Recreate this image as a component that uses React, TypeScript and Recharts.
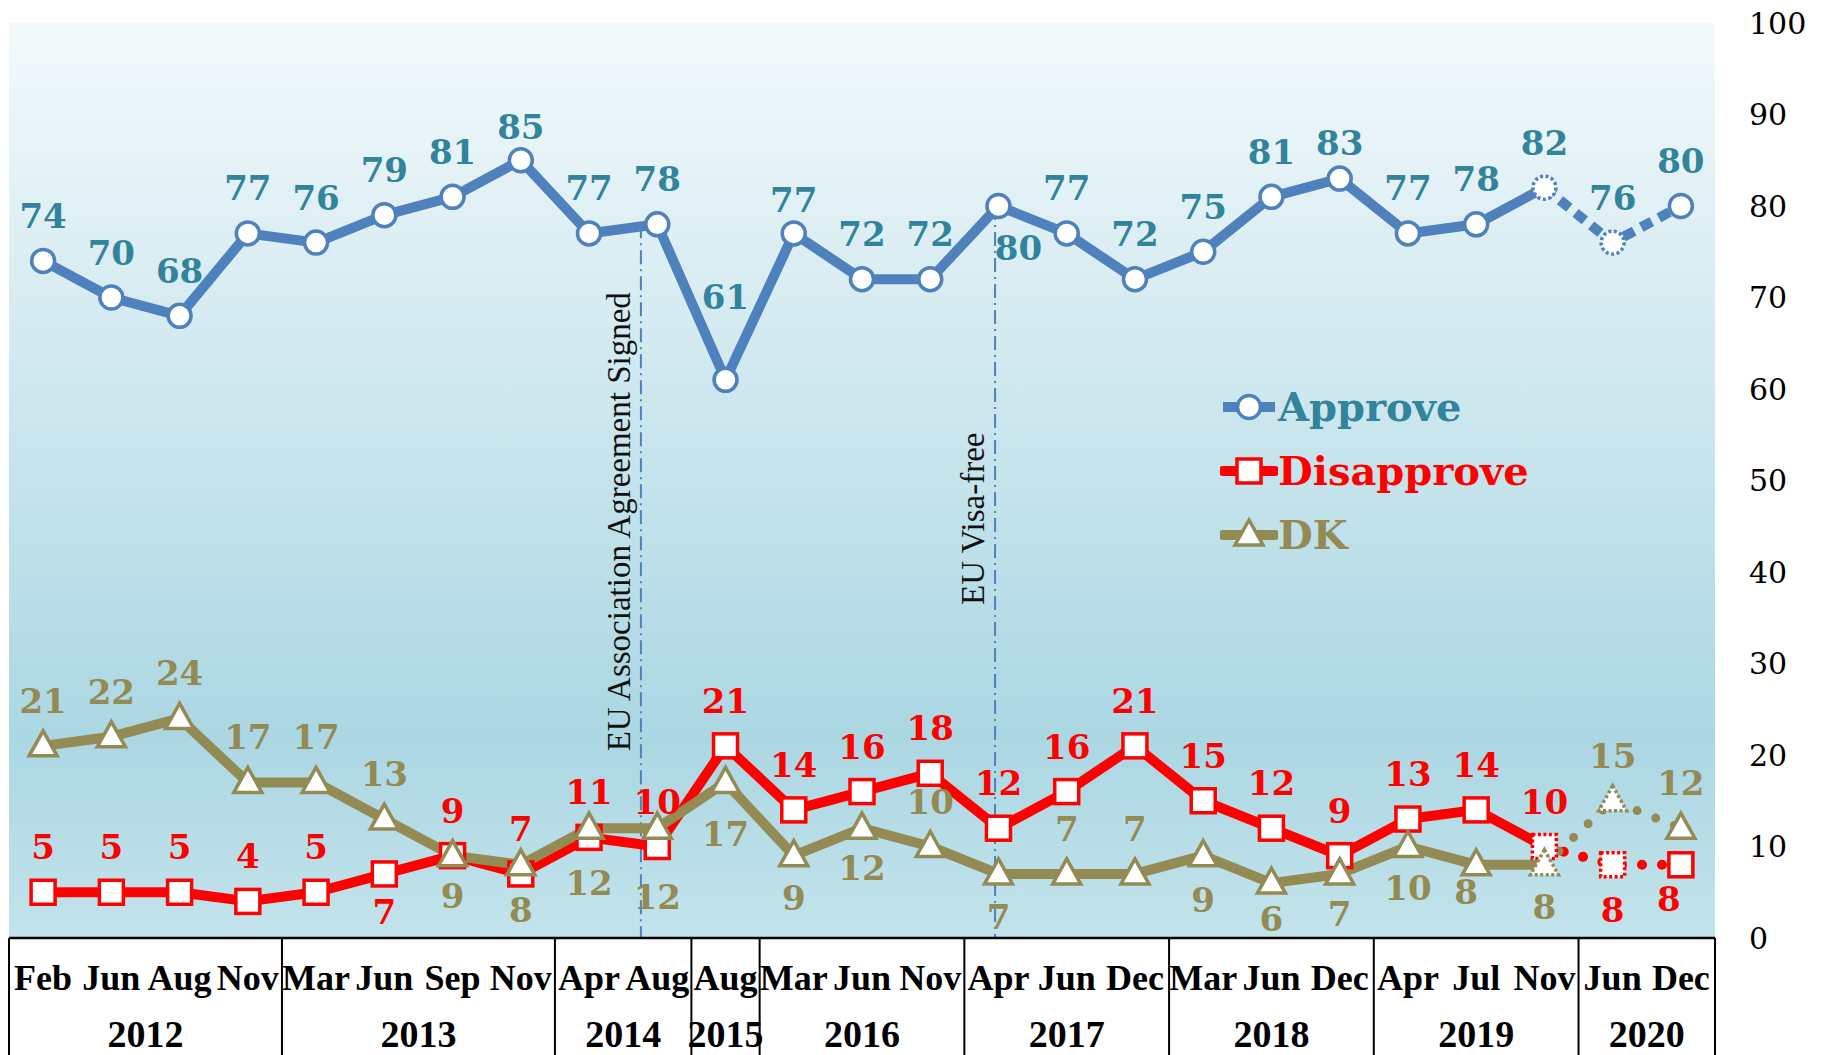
import {
  LineChart,
  Line,
  XAxis,
  YAxis,
  CartesianGrid,
  ReferenceLine,
  ReferenceDot,
  Legend
} from "recharts"

const months = [
  "Feb", "Jun", "Aug", "Nov",
  "Mar", "Jun", "Sep", "Nov",
  "Apr", "Aug",
  "Aug",
  "Mar", "Jun", "Nov",
  "Apr", "Jun", "Dec",
  "Mar", "Jun", "Dec",
  "Apr", "Jul", "Nov",
  "Jun", "Dec"
]
const years = ["2012", "2013", "2014", "2015", "2016", "2017", "2018", "2019", "2020"]
const yearSpans = [4, 4, 2, 1, 3, 3, 3, 3, 2]

const approve = [74, 70, 68, 77, 76, 79, 81, 85, 77, 78, 61, 77, 72, 72, 80, 77, 72, 75, 81, 83, 77, 78, 82, 76, 80]
const disapprove = [5, 5, 5, 4, 5, 7, 9, 7, 11, 10, 21, 14, 16, 18, 12, 16, 21, 15, 12, 9, 13, 14, 10, 8, 8]
const dk = [21, 22, 24, 17, 17, 13, 9, 8, 12, 12, 17, 9, 12, 10, 7, 7, 7, 9, 6, 7, 10, 8, 8, 15, 12]

const yTicks = [0, 10, 20, 30, 40, 50, 60, 70, 80, 90, 100]

// from Nov 2019 on the series are drawn dotted
const SPLIT = 22

const data = months.map((m, i) => ({
  x: i + 0.5,
  month: m,
  approve: i <= SPLIT ? approve[i] : null,
  approveEst: i >= SPLIT ? approve[i] : null,
  disapprove: i <= SPLIT ? disapprove[i] : null,
  disapproveEst: i >= SPLIT ? disapprove[i] : null,
  dk: i <= SPLIT ? dk[i] : null,
  dkEst: i >= SPLIT ? dk[i] : null
}))

// year groups on the category scale
const yearCenters: number[] = []
const yearBounds: number[] = [0]
let acc = 0
yearSpans.forEach((n) => {
  yearCenters.push(acc + n / 2)
  acc += n
  yearBounds.push(acc)
})

const events = [
  { x: 9.26, top: 78, textAt: 20.4, text: "EU Association Agreement Signed" },
  { x: 14.45, top: 80, textAt: 36.4, text: "EU Visa-free" }
]

const BLUE = "#4F81BD"
const TEAL = "#31849B"
const RED = "#FF0000"
const OLIVE = "#948A54"

type Shape = "circle" | "square" | "triangle"

const legendOrder = ["approve", "disapprove", "dk"]

const styles: Record<string, { shape: Shape; line: string; text: string }> = {
  approve: { shape: "circle", line: BLUE, text: TEAL },
  disapprove: { shape: "square", line: RED, text: RED },
  dk: { shape: "triangle", line: OLIVE, text: OLIVE }
}

// label placement: default above the point, exceptions by index
const labelDy: Record<string, Record<number, number>> = {
  approve: { 7: -33, 10: -83, 11: -33, 14: 42, 19: -36 },
  disapprove: { 5: 38, 23: 45, 24: 34 },
  dk: { 6: 40, 7: 45, 8: 55, 9: 69, 10: 52, 11: 42, 12: 40, 14: 43, 17: 44, 18: 36, 19: 40, 20: 41, 21: 27, 22: 42 }
}
const labelDx: Record<string, Record<number, number>> = {
  approve: { 14: 20 },
  disapprove: { 24: -12 },
  dk: { 21: -10 }
}

function Marker({ shape, cx, cy, color, dotted }: { shape: Shape; cx: number; cy: number; color: string; dotted: boolean }) {
  const common = {
    fill: "#fff",
    stroke: color,
    strokeWidth: 3.5,
    strokeDasharray: dotted ? "3 2.5" : undefined
  }
  if (shape === "circle") return <circle cx={cx} cy={cy} r={11.5} {...common} />
  if (shape === "square") return <rect x={cx - 12} y={cy - 12} width={24} height={24} {...common} />
  return <polygon points={`${cx},${cy - 15} ${cx - 14},${cy + 10} ${cx + 14},${cy + 10}`} strokeLinejoin="miter" {...common} />
}

const dotFor = (key: string, from: number, to: number) => (props: any) => {
  const { cx, cy, index, value } = props
  const k = `${key}-${from}-${index}`
  if (index < from || index > to || value == null || cx == null || cy == null) return <g key={k} />
  const st = styles[key]
  const dy = labelDy[key][index] ?? -45
  const dx = labelDx[key][index] ?? 0
  return (
    <g key={k}>
      <Marker shape={st.shape} cx={cx} cy={cy} color={st.line} dotted={index === SPLIT || index === SPLIT + 1} />
      <text
        x={cx + dx}
        y={cy + dy}
        textAnchor="middle"
        dominantBaseline="central"
        fontFamily="DejaVu Serif"
        fontWeight="bold"
        fontSize={34}
        fill={st.text}
      >
        {value}
      </text>
    </g>
  )
}

const MonthTick = (props: any) => {
  const { x, y, payload } = props
  return (
    <text x={x} y={y + 40} textAnchor="middle" dominantBaseline="central" fontFamily="Liberation Serif" fontWeight="bold" fontSize={36} fill="#000">
      {months[Math.floor(payload.value)]}
    </text>
  )
}

const YearTick = (props: any) => {
  const { x, y, payload } = props
  return (
    <text x={x} y={y + 35} textAnchor="middle" dominantBaseline="central" fontFamily="Liberation Serif" fontWeight="bold" fontSize={38} fill="#000">
      {years[yearCenters.indexOf(payload.value)]}
    </text>
  )
}

const LegendContent = (props: any) => {
  const items = (props.payload || [])
    .filter((p: any) => styles[p.dataKey])
    .sort((a: any, b: any) => legendOrder.indexOf(a.dataKey) - legendOrder.indexOf(b.dataKey))
  return (
    <div>
      {items.map((p: any) => {
        const st = styles[p.dataKey]
        return (
          <div key={p.dataKey} style={{ display: "flex", alignItems: "center", height: 64 }}>
            <svg width={58} height={64}>
              <line x1={3} x2={55} y1={32} y2={32} stroke={st.line} strokeWidth={10} strokeLinecap={p.dataKey === "approve" ? "butt" : "round"} />
              <Marker shape={st.shape} cx={29} cy={32} color={st.line} dotted={false} />
            </svg>
            <span style={{ fontFamily: "DejaVu Serif", fontWeight: "bold", fontSize: 40, color: st.text, lineHeight: "64px" }}>
              {p.value}
            </span>
          </div>
        )
      })}
    </div>
  )
}

export default function App() {
  return (
    <div style={{ position: "absolute", left: 0, top: 0, width: 1825, height: 1055, background: "#fff" }}>
      <LineChart width={1825} height={1055} data={data} margin={{ top: 23, right: 0, bottom: 0, left: 9 }}>
        <defs>
          <linearGradient id="bg" x1="0" y1="0" x2="0" y2="1">
            <stop offset="0%" stopColor="#f3f9fb" />
            <stop offset="78%" stopColor="#abd7e3" />
            <stop offset="100%" stopColor="#c3e3eb" />
          </linearGradient>
        </defs>
        <CartesianGrid xAxisId="month" horizontal={false} vertical={false} fill="url(#bg)" />
        <XAxis
          xAxisId="month"
          dataKey="x"
          type="number"
          domain={[0, 25]}
          ticks={data.map((d) => d.x)}
          interval={0}
          height={61}
          tickSize={0}
          tickMargin={0}
          tickLine={false}
          axisLine={{ stroke: "#000", strokeWidth: 2.5 }}
          tick={MonthTick}
        />
        <XAxis
          xAxisId="year"
          dataKey="x"
          type="number"
          domain={[0, 25]}
          ticks={yearCenters}
          interval={0}
          height={56}
          tickSize={0}
          tickMargin={0}
          tickLine={false}
          axisLine={false}
          tick={YearTick}
        />
        <YAxis
          orientation="right"
          domain={[0, 100]}
          ticks={yTicks}
          interval={0}
          width={110}
          axisLine={false}
          tickLine={false}
          tickSize={0}
          tickMargin={34}
          tick={{ fontFamily: "DejaVu Serif", fontSize: 30, fill: "#000" }}
        />

        {yearBounds.map((b) => (
          <ReferenceLine
            key={`sep-${b}`}
            xAxisId="month"
            segment={[{ x: b, y: 0 }, { x: b, y: -14 }]}
            ifOverflow="visible"
            stroke="#000"
            strokeWidth={2}
          />
        ))}

        {events.map((e) => (
          <ReferenceLine
            key={`ev-${e.x}`}
            xAxisId="month"
            segment={[{ x: e.x, y: e.top }, { x: e.x, y: 0 }]}
            ifOverflow="visible"
            stroke={BLUE}
            strokeWidth={2}
            strokeDasharray="14 5 2 5"
          />
        ))}
        {events.map((e) => (
          <ReferenceDot
            key={`evt-${e.x}`}
            xAxisId="month"
            x={e.x}
            y={e.textAt}
            r={0}
            ifOverflow="visible"
            shape={(p: any) => (
              <text
                x={p.cx - 11}
                y={p.cy}
                transform={`rotate(-90 ${p.cx - 11} ${p.cy})`}
                textAnchor="start"
                fontFamily="Liberation Serif"
                fontSize={33}
                fill="#111"
              >
                {e.text}
              </text>
            )}
          />
        ))}

        <Line xAxisId="month" dataKey="approve" name="Approve" stroke={BLUE} strokeWidth={10} strokeLinejoin="round"
          dot={dotFor("approve", 0, SPLIT - 1)} activeDot={false} isAnimationActive={false} />
        <Line xAxisId="month" dataKey="approveEst" legendType="none" stroke={BLUE} strokeWidth={10} strokeDasharray="12 8"
          dot={dotFor("approve", SPLIT, 24)} activeDot={false} isAnimationActive={false} />

        <Line xAxisId="month" dataKey="disapprove" name="Disapprove" stroke={RED} strokeWidth={10} strokeLinejoin="round"
          dot={dotFor("disapprove", 0, SPLIT - 1)} activeDot={false} isAnimationActive={false} />
        <Line xAxisId="month" dataKey="disapproveEst" legendType="none" stroke={RED} strokeWidth={10} strokeDasharray="0 20" strokeLinecap="round"
          dot={dotFor("disapprove", SPLIT, 24)} activeDot={false} isAnimationActive={false} />

        <Line xAxisId="month" dataKey="dk" name="DK" stroke={OLIVE} strokeWidth={10} strokeLinejoin="round"
          dot={dotFor("dk", 0, SPLIT - 1)} activeDot={false} isAnimationActive={false} />
        <Line xAxisId="month" dataKey="dkEst" legendType="none" stroke={OLIVE} strokeWidth={9} strokeDasharray="0 20" strokeLinecap="round"
          dot={dotFor("dk", SPLIT, 24)} activeDot={false} isAnimationActive={false} />

        <Legend
          layout="horizontal"
          verticalAlign="middle"
          align="center"
          wrapperStyle={{ left: 1220, top: 375, width: 420, height: 192 }}
          content={LegendContent}
        />
      </LineChart>
    </div>
  )
}
